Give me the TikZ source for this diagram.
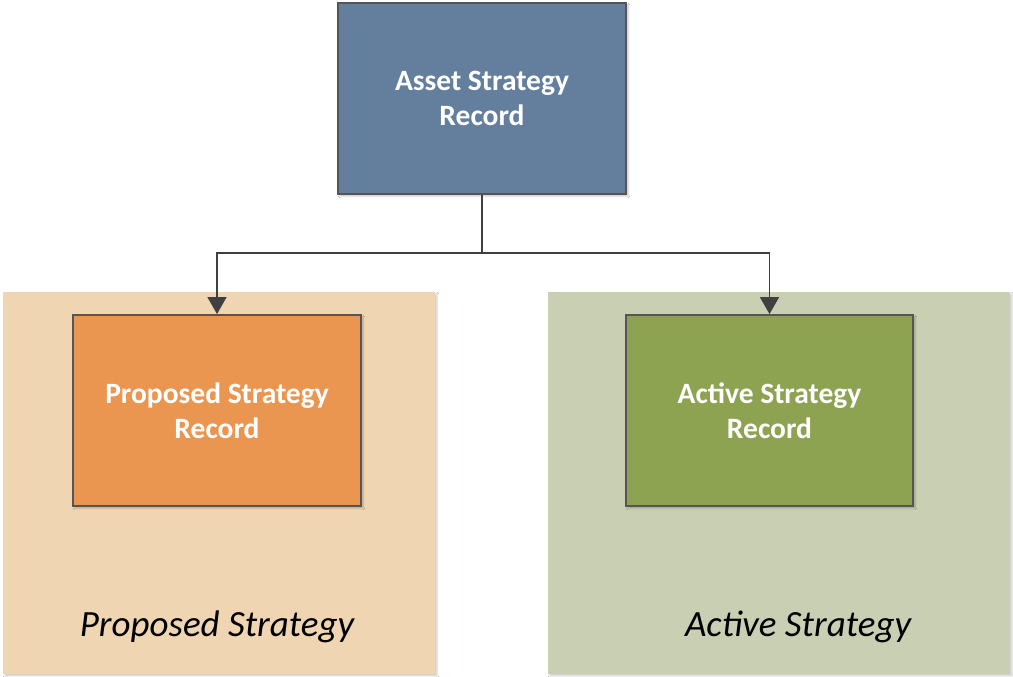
\documentclass[tikz,border=0pt]{standalone}
\usepackage{fontspec}
\setmainfont{Carlito}
\usetikzlibrary{arrows.meta,shadows.blur}
\definecolor{topblue}{HTML}{647E9E}
\definecolor{propfill}{HTML}{EB9650}
\definecolor{actfill}{HTML}{8EA351}
\definecolor{proppanel}{HTML}{F0D5B3}
\definecolor{actpanel}{HTML}{C9CFB3}
\definecolor{edge}{HTML}{555555}
\definecolor{conn}{HTML}{404040}
\tikzset{
  recbox/.style={draw=edge, line width=1.8pt, minimum width=288pt, minimum height=191pt,
    text=white, font=\fontsize{29.5}{35}\selectfont\bfseries, align=center, inner sep=0pt,
    blur shadow={shadow xshift=2pt, shadow yshift=-2pt, shadow blur steps=4, shadow opacity=25}},
  panel/.style={draw=none, inner sep=0pt},
  plabel/.style={font=\fontsize{37}{42}\selectfont\itshape, text=black},
  conline/.style={draw=conn, line width=1.4pt},
  conarrow/.style={conline, -{Triangle[length=17pt,width=19pt]}}
}
\begin{document}
\begin{tikzpicture}[x=1pt,y=1pt]
\useasboundingbox (0,0) rectangle (1013,677);
\fill[white] (0,0) rectangle (1013,677);
% panels
\node[panel, fill=proppanel, minimum width=432pt, minimum height=382pt,
  blur shadow={shadow xshift=2pt, shadow yshift=-2pt, shadow blur steps=4, shadow opacity=20}] (pp) at (219,194) {};
\node[panel, fill=actpanel, minimum width=462pt, minimum height=382pt,
  blur shadow={shadow xshift=2pt, shadow yshift=-2pt, shadow blur steps=4, shadow opacity=20}] (ap) at (779,194) {};
% boxes
\node[recbox, fill=topblue] (asr) at (482,578.5) {Asset Strategy\\Record};
\node[recbox, fill=propfill] (psr) at (217,266.5) {Proposed Strategy\\Record};
\node[recbox, fill=actfill, minimum width=287pt] (acr) at (769.5,266.5) {Active Strategy\\Record};
% labels
\node[plabel] (pl) at (217,50) {Proposed Strategy};
\node[plabel] (al) at (798,50) {Active Strategy};
% connectors
\coordinate (j) at (482,424);
\draw[conline] (asr.south) -- (j);
\draw[conarrow] (j) -| (psr.north);
\draw[conarrow] (j) -| (acr.north);
\end{tikzpicture}
\end{document}
